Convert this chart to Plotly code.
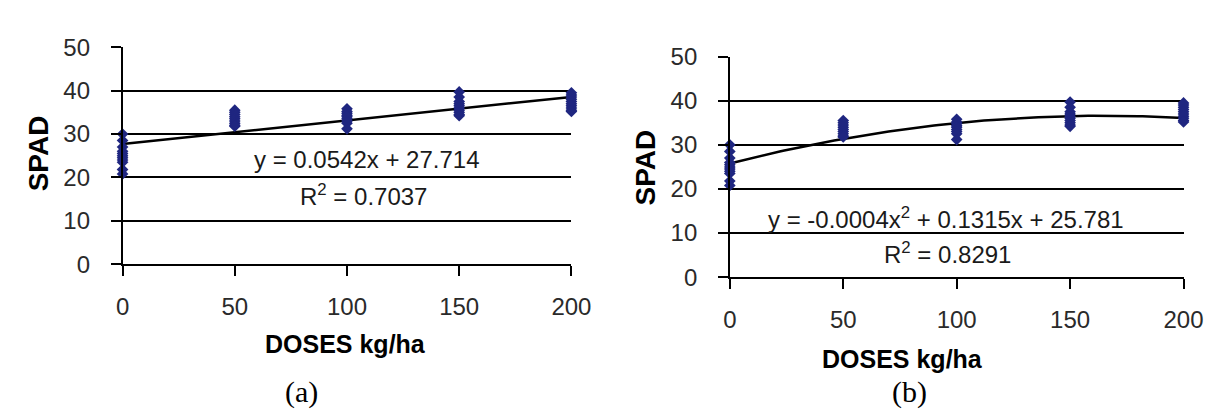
import plotly.graph_objects as go

W, H = 1219, 414

doses = [0, 50, 100, 150, 200]
spad_by_dose = {
    0:   [30.0, 28.5, 27.0, 26.0, 25.5, 25.0, 24.5, 24.0, 23.5, 21.8, 20.8],
    50:  [35.5, 35.0, 34.5, 34.0, 33.5, 33.0, 32.5, 32.0, 31.8],
    100: [35.8, 35.2, 34.8, 34.3, 34.0, 33.5, 33.0, 32.5, 31.2],
    150: [39.7, 38.5, 37.5, 37.0, 36.5, 36.0, 35.5, 35.0, 34.5, 34.2],
    200: [39.5, 39.0, 38.5, 38.0, 37.5, 37.0, 36.5, 36.0, 35.5, 35.2],
}
# trendline coefficients printed on the chart
lin_coef = [0.0542, 27.714]            # y = a x + b
quad_coef = [-0.0004, 0.1315, 25.781]  # y = a x^2 + b x + c
eq_a = "y = 0.0542x + 27.714"
r2_a = "R<sup>2</sup> = 0.7037"
eq_b = "y = -0.0004x<sup>2</sup> + 0.1315x + 25.781"
r2_b = "R<sup>2</sup> = 0.8291"
x_ticks = [0, 50, 100, 150, 200]
y_ticks = [0, 10, 20, 30, 40, 50]
x_title = "DOSES kg/ha"
y_title = "SPAD"
captions = ["(a)", "(b)"]

xs, ys = [], []
for d in doses:
    for v in spad_by_dose[d]:
        xs.append(d)
        ys.append(v)

line_x = list(range(0, 201, 2))
lin_y = [lin_coef[0] * x + lin_coef[1] for x in line_x]
quad_y = [quad_coef[0] * x * x + quad_coef[1] * x + quad_coef[2] for x in line_x]

MARK = "#1f2680"
fig = go.Figure()

for i, ly in enumerate([lin_y, quad_y]):
    xa = "x" if i == 0 else "x2"
    ya = "y" if i == 0 else "y2"
    fig.add_trace(go.Scatter(x=line_x, y=ly, mode="lines",
                             line=dict(color="black", width=2.5),
                             xaxis=xa, yaxis=ya, showlegend=False,
                             cliponaxis=False))
    fig.add_trace(go.Scatter(x=xs, y=ys, mode="markers",
                             marker=dict(symbol="diamond", size=9, color=MARK,
                                         line=dict(width=0)),
                             xaxis=xa, yaxis=ya, showlegend=False,
                             cliponaxis=False))

def px2fx(px):
    return px / W

def py2fy(py):
    return 1 - py / H

tickfont = dict(family="Liberation Sans, Arial", size=24, color="#2a2a2a")

def xaxis_cfg(x0, x1, anchor):
    return dict(domain=[px2fx(x0), px2fx(x1)], range=[0, 200],
                tickvals=x_ticks, ticks="outside", ticklen=10, tickwidth=1.5,
                tickcolor="black", showline=True, linecolor="black",
                linewidth=1.5, showgrid=False, zeroline=False,
                tickfont=tickfont, anchor=anchor, ticklabelstandoff=10)

def yaxis_cfg(y0, y1, anchor):
    return dict(domain=[py2fy(y0), py2fy(y1)], range=[0, 50],
                tickvals=y_ticks, ticks="outside", ticklen=10, tickwidth=1.5,
                tickcolor="black", showline=True, linecolor="black",
                linewidth=1.5, showgrid=True, gridcolor="black",
                gridwidth=1.5, zeroline=False, tickfont=tickfont,
                anchor=anchor, ticklabelstandoff=16)

fig.update_layout(
    width=W, height=H,
    margin=dict(l=0, r=0, t=0, b=0),
    paper_bgcolor="white", plot_bgcolor="white",
    showlegend=False,
    xaxis=xaxis_cfg(110, 569, "y"),
    yaxis=yaxis_cfg(259, 27, "x"),
    xaxis2=xaxis_cfg(731, 1195, "y2"),
    yaxis2=yaxis_cfg(273, 37, "x2"),
)

annots = []
def ann(text, px, py, size, bold=False, family="Liberation Sans, Arial",
        angle=0, color="#1a1a1a"):
    annots.append(dict(text=("<b>%s</b>" % text) if bold else text,
                       x=px2fx(px), y=py2fy(py), xref="paper", yref="paper",
                       xanchor="center", yanchor="middle", showarrow=False,
                       textangle=angle,
                       font=dict(family=family, size=size, color=color)))

ann(eq_a, 360, 147, 24)
ann(r2_a, 356, 185, 24)
ann(eq_b, 952, 210, 24)
ann(r2_b, 954, 247, 24)
ann(x_title, 338, 344, 25, bold=True, color="black")
ann(x_title, 908, 360, 25, bold=True, color="black")
ann(y_title, 24, 140, 28, bold=True, angle=-90, color="black")
ann(y_title, 645, 156, 28, bold=True, angle=-90, color="black")
ann(captions[0], 293, 396, 30, family="Liberation Serif, Times New Roman",
    color="black")
ann(captions[1], 915, 396, 30, family="Liberation Serif, Times New Roman",
    color="black")
fig.update_layout(annotations=annots)

fig.write_html("out.html")
